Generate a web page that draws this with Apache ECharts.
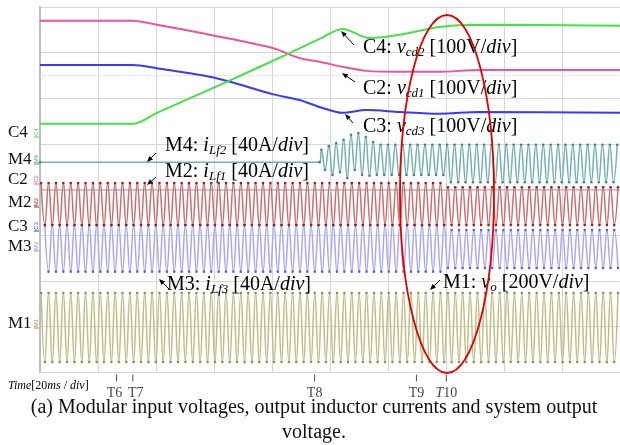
<!DOCTYPE html>
<html>
<head>
<meta charset="utf-8">
<script src="https://cdn.jsdelivr.net/npm/echarts@6/dist/echarts.min.js"></script>
<style>
  html, body { margin: 0; padding: 0; background: #fff; }
  #c { width: 620px; height: 445px; }
</style>
</head>
<body>
<div id="c"></div>
<script>
// Time in ms (20 ms / div, 10 divisions); amplitudes in screen divisions (centre = 0).

// Slow DC-link traces, [t, div]
const vcd1 = [[0,3.70],[32,3.70],[40.3,3.61],[60.2,3.37],[80.2,3.10],[89.5,2.88],[96.4,2.80],[104.3,2.69],[112.6,2.60],[123.9,2.58],[137.7,2.58],[151.4,2.62],[200,2.62]];
const vcd3 = [[0,2.73],[32,2.73],[40.3,2.66],[60.2,2.45],[80.2,2.09],[89.5,1.96],[96.4,1.81],[104.3,1.68],[112.6,1.74],[123.9,1.70],[137.7,1.66],[151.4,1.70],[200,1.68]];
const vcd2 = [[0,1.44],[32,1.44],[40.3,1.68],[64.4,2.36],[86.1,2.99],[96.4,3.30],[104.3,3.52],[113.6,3.32],[123.9,3.39],[137.7,3.56],[151.4,3.61],[200,3.59]];

// AC traces: cycle length (ms) and envelopes [from, to, peak, trough]
const PERIOD = 2.55;
const vo   = [[0, 200, -2.27, -3.78]];
const iLf1 = [[0, 140.1, 0.14, -0.78], [140.1, 200, 0.05, -0.78]];
const iLf3 = [[0, 140.1, -0.78, -1.80], [140.1, 200, -0.89, -1.72]];
const iLf2Idle = 0.60;          // before start-up
const iLf2Start = 96.4;         // start of module 2 current
const iLf2Burst = [[0.87,0.43],[0.95,0.32],[1.02,0.38],[1.09,0.25],[1.20,0.43],[1.24,0.32],[1.15,0.30],[1.04,0.32]];
const iLf2 = [[116.8, 140.1, 0.98, 0.32], [140.1, 200, 0.98, 0.16]];

// Event markers on the time axis
const eventNames = ['T6', 'T7', 'T8', 'T9', 'T10'];
const eventTimes = [26.4, 32.0, 94.7, 129.8, 140.1];
const eventNudge = [-2, 3, 0, 0, 0];   // label shift so T6/T7 do not touch

// Channel names on the left edge
const chNames = ['C4', 'M4', 'C2', 'M2', 'C3', 'M3', 'M1'];

function segAt(env, t) {
  for (const s of env) if (t >= s[0] && t < s[1]) return s;
  return env[env.length - 1];
}
function wave(env, tStart, startHigh) {
  const pts = [];
  for (let k = 0; ; k++) {
    const t = tStart + k * PERIOD / 2;
    if (t > 200) break;
    const s = segAt(env, t);
    const high = (k % 2 === 0) === startHigh;
    pts.push([t, high ? s[2] : s[3]]);
  }
  return pts;
}

// module 2 current: idle line, start-up burst, then steady envelopes
const burstEnv = iLf2Burst.map((p, i) => [iLf2Start + i * PERIOD, iLf2Start + (i + 1) * PERIOD, p[0], p[1]]);
const iLf2Data = [[0, iLf2Idle], [iLf2Start, iLf2Idle]].concat(wave(burstEnv.concat(iLf2), iLf2Start + PERIOD / 4, true));

function acSeries(name, data, lineColor, peakColor, z) {
  return {
    type: 'line', name, data, z, smooth: 0.45,
    symbol: 'circle', symbolSize: 2.6,
    itemStyle: { color: peakColor },
    lineStyle: { color: lineColor, width: 1.5 },
    emphasis: { disabled: true },
    silent: true
  };
}
function dcSeries(name, data, color, z) {
  return {
    type: 'line', name, data, z, smooth: 0.3,
    symbol: 'none',
    lineStyle: { color, width: 2 },
    emphasis: { disabled: true },
    silent: true
  };
}

const SERIF = '"Liberation Serif", "Times New Roman", serif';
const richBase = {
  n: { fontFamily: SERIF, fontSize: 20, color: '#222' },
  i: { fontFamily: SERIF, fontSize: 20, fontStyle: 'italic', color: '#222' },
  s: { fontFamily: SERIF, fontSize: 13, fontStyle: 'italic', color: '#222', padding: [9, 0, 0, 0] }
};
function sigLabel(x, y, ch, sym, sub, unit) {
  return {
    type: 'text', x, y, z: 120,
    style: {
      text: `{n|${ch}: }{i|${sym}}{s|${sub}}{n| [${unit}/}{i|div}{n|]}`,
      rich: richBase,
      verticalAlign: 'middle'
    }
  };
}
function arrow(x1, y1, x2, y2) {
  const a = Math.atan2(y2 - y1, x2 - x1);
  const L = 6, W = 2.4;
  const bx = x2 - L * Math.cos(a), by = y2 - L * Math.sin(a);
  const px = -Math.sin(a) * W, py = Math.cos(a) * W;
  return [
    { type: 'line', z: 110, shape: { x1, y1, x2: bx, y2: by }, style: { stroke: '#000', lineWidth: 1 } },
    { type: 'polygon', z: 110, shape: { points: [[x2, y2], [bx + px, by + py], [bx - px, by - py]] }, style: { fill: '#000' } }
  ];
}

const chY = [133, 160, 180, 203, 227, 247, 324];
const chColor = ['#3fd83f', '#4a9a9a', '#e0559a', '#a32020', '#3a3af0', '#8a8ae8', '#9a9a50'];

const graphics = [];
chNames.forEach((n, i) => {
  graphics.push({ type: 'text', x: 8, y: chY[i], style: { text: n, font: '17px ' + SERIF, fill: '#111', verticalAlign: 'middle' } });
  graphics.push({ type: 'text', x: 36, y: chY[i] - 1, rotation: Math.PI / 2, style: { text: n, font: '6px sans-serif', fill: chColor[i], align: 'center', verticalAlign: 'middle' } });
  graphics.push({ type: 'line', shape: { x1: 34, y1: chY[i] + 4, x2: 39, y2: chY[i] + 4 }, style: { stroke: chColor[i], lineWidth: 1 } });
});
graphics.push(sigLabel(363, 48, 'C4', 'v', 'cd2', '100V'));
graphics.push(sigLabel(363, 89, 'C2', 'v', 'cd1', '100V'));
graphics.push(sigLabel(363, 127, 'C3', 'v', 'cd3', '100V'));
graphics.push(sigLabel(165, 146, 'M4', 'i', 'Lf2', '40A'));
graphics.push(sigLabel(165, 172, 'M2', 'i', 'Lf1', '40A'));
graphics.push(sigLabel(167, 285, 'M3', 'i', 'Lf3', '40A'));
graphics.push(sigLabel(443, 283, 'M1', 'v', 'o', '200V'));
graphics.push(...arrow(354, 45, 341, 31));
graphics.push(...arrow(355, 82, 342, 73));
graphics.push(...arrow(353, 123, 345, 114));
graphics.push(...arrow(156, 153, 147, 162));
graphics.push(...arrow(156, 177, 147, 185));
graphics.push(...arrow(169, 289, 159, 279));
graphics.push(...arrow(440, 280, 430, 290));
// highlighted region around T10
graphics.push({ type: 'ellipse', z: 130, shape: { cx: 447, cy: 194, rx: 47, ry: 179 }, style: { fill: 'none', stroke: '#e00000', lineWidth: 1.8 } });
// time-base note and caption
graphics.push({
  type: 'text', x: 8, y: 386,
  style: {
    text: '{i|Time}{n|[20}{i|ms}{n| / }{i|div}{n|]}',
    rich: {
      n: { fontFamily: SERIF, fontSize: 12, color: '#111' },
      i: { fontFamily: SERIF, fontSize: 12, fontStyle: 'italic', color: '#111' }
    },
    verticalAlign: 'middle'
  }
});
graphics.push({ type: 'text', x: 314, y: 408, style: { text: '(a) Modular input voltages, output inductor currents and system output', font: '20px ' + SERIF, fill: '#111', align: 'center', verticalAlign: 'middle' } });
graphics.push({ type: 'text', x: 314, y: 433, style: { text: 'voltage.', font: '20px ' + SERIF, fill: '#111', align: 'center', verticalAlign: 'middle' } });

const chart = echarts.init(document.getElementById('c'), null, { renderer: 'canvas' });
chart.setOption({
  animation: false,
  backgroundColor: '#fff',
  grid: { left: 40, top: 7, width: 581, height: 365 },
  xAxis: {
    type: 'value', min: 0, max: 200, interval: 20,
    axisLine: { show: true, lineStyle: { color: '#bdbdbd', width: 1.5 } },
    axisTick: { show: false }, axisLabel: { show: false },
    splitLine: { show: true, lineStyle: { color: '#d6d6d6', width: 1 } }
  },
  yAxis: {
    type: 'value', min: -4, max: 4, interval: 1,
    axisLine: { show: true, lineStyle: { color: '#bdbdbd', width: 2 } },
    axisTick: { show: false }, axisLabel: { show: false },
    splitLine: { show: true, lineStyle: { color: '#d6d6d6', width: 1 } }
  },
  series: [
    acSeries('M1', wave(vo, 0.4, true), '#bdbd84', '#8e8e46', 2),
    acSeries('M3', wave(iLf3, 0.4 + PERIOD / 2, true), '#a8a8f0', '#5a5af2', 3),
    acSeries('M2', wave(iLf1, 0.4, true), '#c87070', '#a01818', 4),
    acSeries('M4', iLf2Data, '#74b0b0', '#3f8787', 5),
    dcSeries('C3', vcd3, '#3a3af0', 6),
    dcSeries('C2', vcd1, '#ee529c', 7),
    Object.assign(dcSeries('C4', vcd2, '#48e048', 8), {
      markLine: {
        silent: true, symbol: 'none', label: { show: false },
        lineStyle: { color: '#dadada', type: 'dotted', width: 1 },
        data: [{ yAxis: 2.5 }, { xAxis: 100 }]
      }
    }),
    {
      type: 'scatter', name: 'events', z: 20, clip: false, silent: true,
      data: eventTimes.map((t, i) => ({
        value: [t, -4], name: eventNames[i],
        label: { offset: [eventNudge[i], 0] }
      })),
      symbol: 'rect', symbolSize: [1, 7], symbolOffset: [0, 6],
      itemStyle: { color: '#222' },
      label: {
        show: true, position: 'bottom', distance: 5,
        formatter: p => p.name === 'T10' ? '{i|T}{n|10}' : '{n|' + p.name + '}',
        rich: {
          n: { fontFamily: SERIF, fontSize: 14, color: '#111' },
          i: { fontFamily: SERIF, fontSize: 14, fontStyle: 'italic', color: '#111' }
        }
      }
    }
  ],
  graphic: graphics
});
</script>
</body>
</html>
